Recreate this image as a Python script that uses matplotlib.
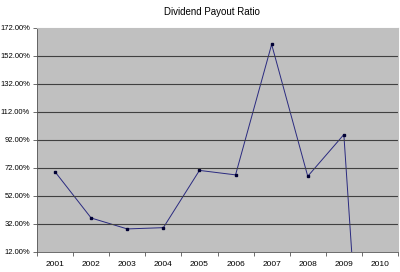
import matplotlib.pyplot as plt
import numpy as np

years = ['2001', '2002', '2003', '2004', '2005', '2006', '2007', '2008', '2009', '2010']
payout = [69.0, 36.0, 28.2, 29.1, 70.0, 66.8, 160.0, 65.8, 95.6, -290.0]
yticks = [12, 32, 52, 72, 92, 112, 132, 152, 172]


def main():
    plt.rcParams['font.family'] = ['Liberation Sans', 'DejaVu Sans']
    fig = plt.figure(figsize=(4, 2.72), dpi=100)
    ax = fig.add_axes([0.0925, 0.075, 0.9025, 0.8235])
    ax.set_facecolor('#c0c0c0')

    x = np.arange(len(years))
    ax.plot(x, payout, color='#2a2a80', lw=0.7, marker='s', ms=1.8,
            mfc='#000033', mec='#000033')

    ax.set_xlim(-0.5, len(years) - 0.5)
    ax.set_ylim(12, 172)
    ax.set_yticks(yticks)
    ax.set_yticklabels(['%.2f%%' % v for v in yticks])
    for v in yticks[1:-1]:
        ax.axhline(v, color='#404040', lw=0.8)

    # category labels in the middle, tick marks between categories
    ax.set_xticks(x)
    ax.set_xticklabels(years)
    ax.set_xticks(np.arange(-0.5, len(years)), minor=True)
    ax.tick_params(axis='x', which='major', length=0, labelsize=6, pad=7)
    ax.tick_params(axis='x', which='minor', length=3, width=0.6, color='#555555')
    ax.tick_params(axis='y', length=3, width=0.6, color='#555555', labelsize=5.5, pad=2)

    for side in ['top', 'right']:
        ax.spines[side].set_color('#c0c0c0')
    ax.spines['left'].set_color('#555555')
    ax.spines['bottom'].set_color('#555555')
    ax.spines['left'].set_linewidth(0.6)
    ax.spines['bottom'].set_linewidth(0.6)

    fig.text(0.53, 0.955, 'Dividend Payout Ratio', ha='center', va='center', fontsize=7)

    fig.savefig('out.png', dpi=100)


if __name__ == "__main__":
    main()
